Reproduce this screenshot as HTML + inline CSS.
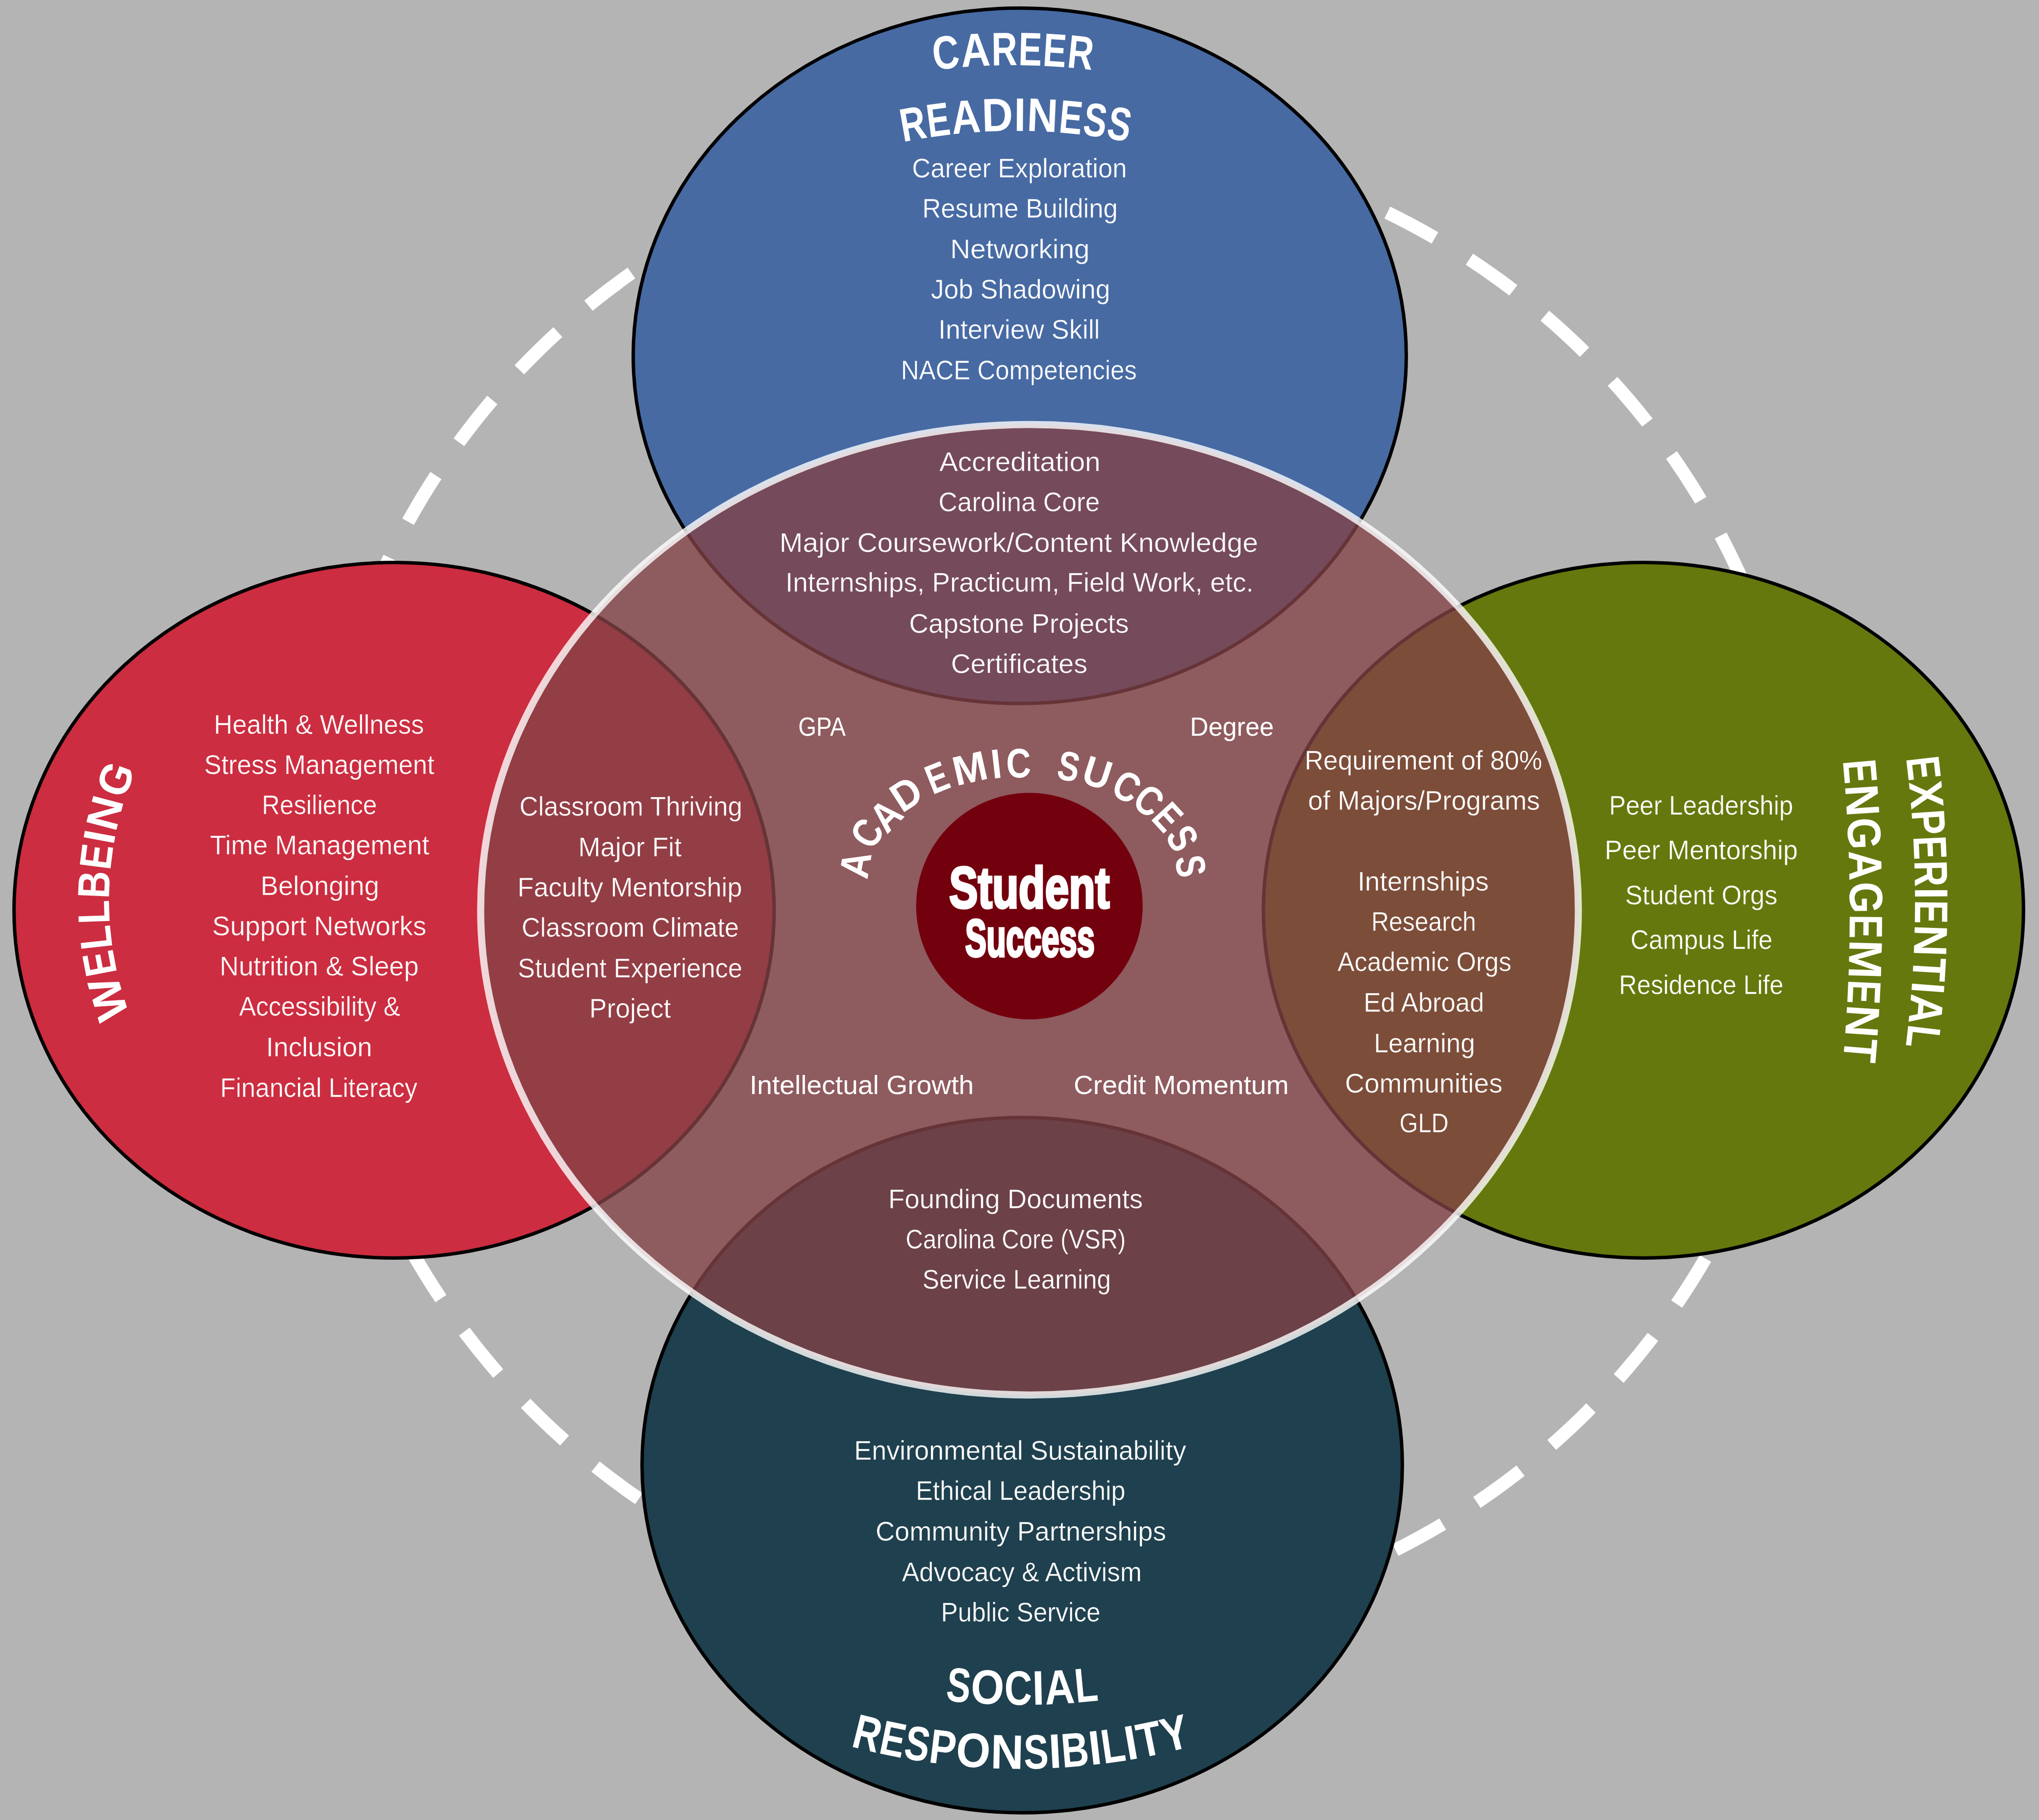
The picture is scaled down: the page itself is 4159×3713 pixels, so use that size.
<!DOCTYPE html>
<html lang="en"><head><meta charset="utf-8"><title>Student Success Model</title>
<style>html,body{margin:0;padding:0;background:#b4b4b4}svg{display:block}</style></head>
<body>
<svg width="4159" height="3713" viewBox="0 0 4159 3713">
<rect width="4159" height="3713" fill="#b4b4b4"/>
<path d="M 641.9 1802.0 A 1521.5 1521.5 0 1 1 3684.9 1802.0 A 1521.5 1521.5 0 1 1 641.9 1802.0" fill="none" stroke="#fff" stroke-width="27" stroke-dasharray="110 82.5"/>
<ellipse cx="2080.0" cy="725.9" rx="788.4" ry="709.4" fill="#476aa3" stroke="#000" stroke-width="7"/>
<ellipse cx="803.8" cy="1857.0" rx="775.2" ry="709.4" fill="#cc2d40" stroke="#000" stroke-width="7"/>
<ellipse cx="3352.2" cy="1857.0" rx="775.2" ry="709.4" fill="#65780d" stroke="#000" stroke-width="7"/>
<ellipse cx="2085.0" cy="2989.0" rx="775.4" ry="709.2" fill="#1f404e" stroke="#000" stroke-width="7"/>
<ellipse cx="2099.9" cy="1856" rx="1119.5" ry="989.9" fill="rgb(131,65,70)" fill-opacity="0.78"/>
<ellipse cx="2099.9" cy="1856" rx="1119.5" ry="989.9" fill="none" stroke="#fff" stroke-opacity="0.8" stroke-width="14.5"/>
<circle cx="2099.7" cy="1848.6" r="231" fill="#73000d"/>
<g fill="#fff" font-family="'Liberation Sans', sans-serif">
<g stroke="#476aa3" stroke-width="0.50">
<text x="1860.3" y="362.0" font-size="55.96" textLength="438.1" lengthAdjust="spacingAndGlyphs">Career Exploration</text>
<text x="1881.2" y="443.6" font-size="55.96" textLength="398.7" lengthAdjust="spacingAndGlyphs">Resume Building</text>
<text x="1938.3" y="527.0" font-size="55.96" textLength="284.3" lengthAdjust="spacingAndGlyphs">Networking</text>
<text x="1898.7" y="608.7" font-size="55.96" textLength="365.8" lengthAdjust="spacingAndGlyphs">Job Shadowing</text>
<text x="1914.0" y="691.4" font-size="55.96" textLength="329.6" lengthAdjust="spacingAndGlyphs">Interview Skill</text>
<text x="1837.8" y="773.5" font-size="55.96" textLength="481.0" lengthAdjust="spacingAndGlyphs">NACE Competencies</text>
</g>
<g stroke="#764a5a" stroke-width="0.50">
<text x="1915.9" y="960.6" font-size="55.96" textLength="328.8" lengthAdjust="spacingAndGlyphs">Accreditation</text>
<text x="1914.3" y="1043.0" font-size="55.96" textLength="329.1" lengthAdjust="spacingAndGlyphs">Carolina Core</text>
<text x="1590.0" y="1125.8" font-size="55.96" textLength="976.2" lengthAdjust="spacingAndGlyphs">Major Coursework/Content Knowledge</text>
<text x="1601.9" y="1207.4" font-size="55.96" textLength="955.1" lengthAdjust="spacingAndGlyphs">Internships, Practicum, Field Work, etc.</text>
<text x="1854.2" y="1290.5" font-size="55.96" textLength="448.3" lengthAdjust="spacingAndGlyphs">Capstone Projects</text>
<text x="1939.7" y="1373.0" font-size="55.96" textLength="278.3" lengthAdjust="spacingAndGlyphs">Certificates</text>
</g>
<g stroke="#cc2d40" stroke-width="0.50">
<text x="436.2" y="1496.6" font-size="55.96" textLength="428.7" lengthAdjust="spacingAndGlyphs">Health &amp; Wellness</text>
<text x="416.4" y="1578.8" font-size="55.96" textLength="469.7" lengthAdjust="spacingAndGlyphs">Stress Management</text>
<text x="534.1" y="1661.0" font-size="55.96" textLength="234.7" lengthAdjust="spacingAndGlyphs">Resilience</text>
<text x="428.4" y="1742.8" font-size="55.96" textLength="447.3" lengthAdjust="spacingAndGlyphs">Time Management</text>
<text x="531.5" y="1825.5" font-size="55.96" textLength="242.0" lengthAdjust="spacingAndGlyphs">Belonging</text>
<text x="432.8" y="1907.7" font-size="55.96" textLength="436.9" lengthAdjust="spacingAndGlyphs">Support Networks</text>
<text x="447.9" y="1990.4" font-size="55.96" textLength="406.1" lengthAdjust="spacingAndGlyphs">Nutrition &amp; Sleep</text>
<text x="487.7" y="2072.2" font-size="55.96" textLength="328.8" lengthAdjust="spacingAndGlyphs">Accessibility &amp;</text>
<text x="542.7" y="2154.9" font-size="55.96" textLength="216.5" lengthAdjust="spacingAndGlyphs">Inclusion</text>
<text x="449.1" y="2237.6" font-size="55.96" textLength="402.2" lengthAdjust="spacingAndGlyphs">Financial Literacy</text>
</g>
<g stroke="#933d45" stroke-width="0.50">
<text x="1059.5" y="1664.3" font-size="55.96" textLength="454.7" lengthAdjust="spacingAndGlyphs">Classroom Thriving</text>
<text x="1179.6" y="1746.7" font-size="55.96" textLength="210.8" lengthAdjust="spacingAndGlyphs">Major Fit</text>
<text x="1055.5" y="1829.4" font-size="55.96" textLength="458.3" lengthAdjust="spacingAndGlyphs">Faculty Mentorship</text>
<text x="1063.9" y="1911.3" font-size="55.96" textLength="443.4" lengthAdjust="spacingAndGlyphs">Classroom Climate</text>
<text x="1056.3" y="1994.0" font-size="55.96" textLength="458.0" lengthAdjust="spacingAndGlyphs">Student Experience</text>
<text x="1202.0" y="2076.4" font-size="55.96" textLength="166.4" lengthAdjust="spacingAndGlyphs">Project</text>
</g>
<g stroke="#7c4d39" stroke-width="0.50">
<text x="2660.9" y="1570.0" font-size="55.96" textLength="485.0" lengthAdjust="spacingAndGlyphs">Requirement of 80%</text>
<text x="2668.1" y="1651.8" font-size="55.96" textLength="473.1" lengthAdjust="spacingAndGlyphs">of Majors/Programs</text>
<text x="2768.9" y="1816.6" font-size="55.96" textLength="267.7" lengthAdjust="spacingAndGlyphs">Internships</text>
<text x="2796.9" y="1899.3" font-size="55.96" textLength="213.9" lengthAdjust="spacingAndGlyphs">Research</text>
<text x="2728.2" y="1981.0" font-size="55.96" textLength="354.7" lengthAdjust="spacingAndGlyphs">Academic Orgs</text>
<text x="2781.5" y="2063.7" font-size="55.96" textLength="245.9" lengthAdjust="spacingAndGlyphs">Ed Abroad</text>
<text x="2802.5" y="2146.8" font-size="55.96" textLength="206.3" lengthAdjust="spacingAndGlyphs">Learning</text>
<text x="2743.2" y="2228.5" font-size="55.96" textLength="321.5" lengthAdjust="spacingAndGlyphs">Communities</text>
<text x="2854.5" y="2310.2" font-size="55.96" textLength="100.3" lengthAdjust="spacingAndGlyphs">GLD</text>
</g>
<g stroke="#65780d" stroke-width="0.50">
<text x="3282.0" y="1661.8" font-size="55.96" textLength="375.5" lengthAdjust="spacingAndGlyphs">Peer Leadership</text>
<text x="3273.1" y="1752.8" font-size="55.96" textLength="393.9" lengthAdjust="spacingAndGlyphs">Peer Mentorship</text>
<text x="3314.9" y="1844.6" font-size="55.96" textLength="310.8" lengthAdjust="spacingAndGlyphs">Student Orgs</text>
<text x="3325.8" y="1936.0" font-size="55.96" textLength="289.7" lengthAdjust="spacingAndGlyphs">Campus Life</text>
<text x="3302.3" y="2027.6" font-size="55.96" textLength="335.5" lengthAdjust="spacingAndGlyphs">Residence Life</text>
</g>
<g stroke="#6d4148" stroke-width="0.50">
<text x="1811.8" y="2465.0" font-size="55.96" textLength="519.4" lengthAdjust="spacingAndGlyphs">Founding Documents</text>
<text x="1847.3" y="2546.6" font-size="55.96" textLength="449.1" lengthAdjust="spacingAndGlyphs">Carolina Core (VSR)</text>
<text x="1881.5" y="2629.0" font-size="55.96" textLength="384.6" lengthAdjust="spacingAndGlyphs">Service Learning</text>
</g>
<g stroke="#1f404e" stroke-width="0.50">
<text x="1742.2" y="2977.6" font-size="55.96" textLength="677.3" lengthAdjust="spacingAndGlyphs">Environmental Sustainability</text>
<text x="1867.9" y="3059.6" font-size="55.96" textLength="427.6" lengthAdjust="spacingAndGlyphs">Ethical Leadership</text>
<text x="1786.0" y="3142.7" font-size="55.96" textLength="592.5" lengthAdjust="spacingAndGlyphs">Community Partnerships</text>
<text x="1839.7" y="3225.5" font-size="55.96" textLength="489.2" lengthAdjust="spacingAndGlyphs">Advocacy &amp; Activism</text>
<text x="1919.4" y="3308.2" font-size="55.96" textLength="325.2" lengthAdjust="spacingAndGlyphs">Public Service</text>
</g>
<text x="1628.2" y="1500.6" font-size="53.05" textLength="96.7" lengthAdjust="spacingAndGlyphs">GPA</text>
<text x="2427.3" y="1500.6" font-size="53.05" textLength="170.8" lengthAdjust="spacingAndGlyphs">Degree</text>
<text x="1528.9" y="2232.4" font-size="53.05" textLength="457.3" lengthAdjust="spacingAndGlyphs">Intellectual Growth</text>
<text x="2189.9" y="2232.4" font-size="53.05" textLength="438.9" lengthAdjust="spacingAndGlyphs">Credit Momentum</text>
<text x="1936.0" y="1851.5" font-size="119.19" textLength="327.4" lengthAdjust="spacingAndGlyphs" font-weight="bold" stroke="#fff" stroke-width="5">Student</text>
<text x="1968.8" y="1950.5" font-size="106.83" textLength="264.2" lengthAdjust="spacingAndGlyphs" font-weight="bold" stroke="#fff" stroke-width="5">Success</text>
<text transform="translate(1932.2 139.9) rotate(-5.87) scale(0.793 1)" font-size="95.93" text-anchor="middle" font-weight="bold">C</text>
<text transform="translate(1991.1 135.1) rotate(-3.28) scale(0.863 1)" font-size="95.93" text-anchor="middle" font-weight="bold">A</text>
<text transform="translate(2049.0 133.1) rotate(-0.75) scale(0.758 1)" font-size="95.93" text-anchor="middle" font-weight="bold">R</text>
<text transform="translate(2100.6 133.5) rotate(1.51) scale(0.744 1)" font-size="95.93" text-anchor="middle" font-weight="bold">E</text>
<text transform="translate(2149.6 135.7) rotate(3.67) scale(0.744 1)" font-size="95.93" text-anchor="middle" font-weight="bold">E</text>
<text transform="translate(2201.1 140.0) rotate(5.93) scale(0.758 1)" font-size="95.93" text-anchor="middle" font-weight="bold">R</text>
<text transform="translate(1867.5 284.9) rotate(-10.01) scale(0.750 1)" font-size="95.93" text-anchor="middle" font-weight="bold">R</text>
<text transform="translate(1917.9 277.1) rotate(-7.52) scale(0.736 1)" font-size="95.93" text-anchor="middle" font-weight="bold">E</text>
<text transform="translate(1972.3 271.2) rotate(-4.85) scale(0.853 1)" font-size="95.93" text-anchor="middle" font-weight="bold">A</text>
<text transform="translate(2035.3 267.6) rotate(-1.77) scale(0.914 1)" font-size="95.93" text-anchor="middle" font-weight="bold">D</text>
<text transform="translate(2080.2 267.0) rotate(0.43) scale(0.892 1)" font-size="95.93" text-anchor="middle" font-weight="bold">I</text>
<text transform="translate(2124.9 268.2) rotate(2.61) scale(0.908 1)" font-size="95.93" text-anchor="middle" font-weight="bold">N</text>
<text transform="translate(2181.4 272.2) rotate(5.37) scale(0.736 1)" font-size="95.93" text-anchor="middle" font-weight="bold">E</text>
<text transform="translate(2229.8 277.7) rotate(7.75) scale(0.739 1)" font-size="95.93" text-anchor="middle" font-weight="bold">S</text>
<text transform="translate(2277.9 285.3) rotate(10.13) scale(0.739 1)" font-size="95.93" text-anchor="middle" font-weight="bold">S</text>
<text transform="translate(1952.5 3471.7) rotate(5.43) scale(0.745 1)" font-size="98.84" text-anchor="middle" font-weight="bold">S</text>
<text transform="translate(2012.7 3476.1) rotate(2.96) scale(0.883 1)" font-size="98.84" text-anchor="middle" font-weight="bold">O</text>
<text transform="translate(2076.7 3478.0) rotate(0.34) scale(0.790 1)" font-size="98.84" text-anchor="middle" font-weight="bold">C</text>
<text transform="translate(2118.5 3477.6) rotate(-1.37) scale(0.899 1)" font-size="98.84" text-anchor="middle" font-weight="bold">I</text>
<text transform="translate(2162.8 3475.8) rotate(-3.19) scale(0.859 1)" font-size="98.84" text-anchor="middle" font-weight="bold">A</text>
<text transform="translate(2218.5 3471.6) rotate(-5.47) scale(0.779 1)" font-size="98.84" text-anchor="middle" font-weight="bold">L</text>
<text transform="translate(1761.5 3569.5) rotate(13.85) scale(0.778 1)" font-size="98.84" text-anchor="middle" font-weight="bold">R</text>
<text transform="translate(1814.8 3581.5) rotate(11.52) scale(0.764 1)" font-size="98.84" text-anchor="middle" font-weight="bold">E</text>
<text transform="translate(1866.0 3590.9) rotate(9.30) scale(0.767 1)" font-size="98.84" text-anchor="middle" font-weight="bold">S</text>
<text transform="translate(1919.4 3598.5) rotate(6.99) scale(0.820 1)" font-size="98.84" text-anchor="middle" font-weight="bold">P</text>
<text transform="translate(1983.0 3604.8) rotate(4.27) scale(0.910 1)" font-size="98.84" text-anchor="middle" font-weight="bold">O</text>
<text transform="translate(2053.7 3608.2) rotate(1.24) scale(0.943 1)" font-size="98.84" text-anchor="middle" font-weight="bold">N</text>
<text transform="translate(2114.4 3608.1) rotate(-1.35) scale(0.767 1)" font-size="98.84" text-anchor="middle" font-weight="bold">S</text>
<text transform="translate(2153.6 3606.6) rotate(-3.02) scale(0.927 1)" font-size="98.84" text-anchor="middle" font-weight="bold">I</text>
<text transform="translate(2195.4 3603.8) rotate(-4.81) scale(0.784 1)" font-size="98.84" text-anchor="middle" font-weight="bold">B</text>
<text transform="translate(2237.2 3599.6) rotate(-6.61) scale(0.927 1)" font-size="98.84" text-anchor="middle" font-weight="bold">I</text>
<text transform="translate(2275.0 3594.7) rotate(-8.23) scale(0.803 1)" font-size="98.84" text-anchor="middle" font-weight="bold">L</text>
<text transform="translate(2312.6 3588.7) rotate(-9.86) scale(0.927 1)" font-size="98.84" text-anchor="middle" font-weight="bold">I</text>
<text transform="translate(2351.0 3581.4) rotate(-11.53) scale(0.835 1)" font-size="98.84" text-anchor="middle" font-weight="bold">T</text>
<text transform="translate(2404.2 3569.4) rotate(-13.86) scale(0.840 1)" font-size="98.84" text-anchor="middle" font-weight="bold">Y</text>
<text transform="translate(250.9 2028.9) rotate(253.23) scale(1.009 1)" font-size="91.57" text-anchor="middle" font-weight="bold">W</text>
<text transform="translate(234.1 1960.1) rotate(259.30) scale(0.824 1)" font-size="91.57" text-anchor="middle" font-weight="bold">E</text>
<text transform="translate(226.6 1909.7) rotate(263.67) scale(0.866 1)" font-size="91.57" text-anchor="middle" font-weight="bold">L</text>
<text transform="translate(222.9 1859.9) rotate(267.95) scale(0.866 1)" font-size="91.57" text-anchor="middle" font-weight="bold">L</text>
<text transform="translate(223.2 1806.1) rotate(272.56) scale(0.845 1)" font-size="91.57" text-anchor="middle" font-weight="bold">B</text>
<text transform="translate(227.9 1751.6) rotate(277.25) scale(0.824 1)" font-size="91.57" text-anchor="middle" font-weight="bold">E</text>
<text transform="translate(233.9 1713.0) rotate(280.60) scale(0.999 1)" font-size="91.57" text-anchor="middle" font-weight="bold">I</text>
<text transform="translate(244.4 1666.4) rotate(284.70) scale(1.017 1)" font-size="91.57" text-anchor="middle" font-weight="bold">N</text>
<text transform="translate(265.2 1600.8) rotate(290.60) scale(0.931 1)" font-size="91.57" text-anchor="middle" font-weight="bold">G</text>
<text transform="translate(3890.8 1570.6) rotate(83.48) scale(0.752 1)" font-size="95.93" text-anchor="middle" font-weight="bold">E</text>
<text transform="translate(3896.3 1624.1) rotate(84.79) scale(0.877 1)" font-size="95.93" text-anchor="middle" font-weight="bold">X</text>
<text transform="translate(3900.7 1679.4) rotate(86.14) scale(0.807 1)" font-size="95.93" text-anchor="middle" font-weight="bold">P</text>
<text transform="translate(3903.6 1730.7) rotate(87.39) scale(0.752 1)" font-size="95.93" text-anchor="middle" font-weight="bold">E</text>
<text transform="translate(3905.4 1782.8) rotate(88.66) scale(0.766 1)" font-size="95.93" text-anchor="middle" font-weight="bold">R</text>
<text transform="translate(3906.0 1822.7) rotate(89.63) scale(0.912 1)" font-size="95.93" text-anchor="middle" font-weight="bold">I</text>
<text transform="translate(3905.9 1860.0) rotate(90.54) scale(0.752 1)" font-size="95.93" text-anchor="middle" font-weight="bold">E</text>
<text transform="translate(3904.6 1917.9) rotate(91.95) scale(0.927 1)" font-size="95.93" text-anchor="middle" font-weight="bold">N</text>
<text transform="translate(3902.0 1975.8) rotate(93.36) scale(0.821 1)" font-size="95.93" text-anchor="middle" font-weight="bold">T</text>
<text transform="translate(3899.5 2013.0) rotate(94.26) scale(0.912 1)" font-size="95.93" text-anchor="middle" font-weight="bold">I</text>
<text transform="translate(3895.8 2056.5) rotate(95.33) scale(0.871 1)" font-size="95.93" text-anchor="middle" font-weight="bold">A</text>
<text transform="translate(3890.1 2111.2) rotate(96.66) scale(0.790 1)" font-size="95.93" text-anchor="middle" font-weight="bold">L</text>
<text transform="translate(3761.1 1576.4) rotate(85.18) scale(0.764 1)" font-size="95.93" text-anchor="middle" font-weight="bold">E</text>
<text transform="translate(3765.5 1635.2) rotate(86.18) scale(0.943 1)" font-size="95.93" text-anchor="middle" font-weight="bold">N</text>
<text transform="translate(3769.3 1701.9) rotate(87.32) scale(0.864 1)" font-size="95.93" text-anchor="middle" font-weight="bold">G</text>
<text transform="translate(3771.7 1766.7) rotate(88.42) scale(0.886 1)" font-size="95.93" text-anchor="middle" font-weight="bold">A</text>
<text transform="translate(3772.9 1831.6) rotate(89.52) scale(0.864 1)" font-size="95.93" text-anchor="middle" font-weight="bold">G</text>
<text transform="translate(3772.9 1890.0) rotate(90.51) scale(0.764 1)" font-size="95.93" text-anchor="middle" font-weight="bold">E</text>
<text transform="translate(3771.6 1956.3) rotate(91.63) scale(0.997 1)" font-size="95.93" text-anchor="middle" font-weight="bold">M</text>
<text transform="translate(3769.1 2022.5) rotate(92.76) scale(0.764 1)" font-size="95.93" text-anchor="middle" font-weight="bold">E</text>
<text transform="translate(3765.7 2081.3) rotate(93.76) scale(0.943 1)" font-size="95.93" text-anchor="middle" font-weight="bold">N</text>
<text transform="translate(3761.4 2140.0) rotate(94.76) scale(0.835 1)" font-size="95.93" text-anchor="middle" font-weight="bold">T</text>
<text transform="translate(1773.6 1768.9) rotate(-80.28) scale(0.880 1)" font-size="84.30" text-anchor="middle" font-weight="bold">A</text>
<text transform="translate(1793.2 1715.0) rotate(-58.26) scale(0.830 1)" font-size="84.30" text-anchor="middle" font-weight="bold">C</text>
<text transform="translate(1827.7 1683.9) rotate(-45.56) scale(0.880 1)" font-size="84.30" text-anchor="middle" font-weight="bold">A</text>
<text transform="translate(1864.2 1644.0) rotate(-32.89) scale(0.950 1)" font-size="84.30" text-anchor="middle" font-weight="bold">D</text>
<text transform="translate(1922.3 1613.4) rotate(-21.80) scale(0.770 1)" font-size="84.30" text-anchor="middle" font-weight="bold">E</text>
<text transform="translate(1984.8 1595.7) rotate(-12.84) scale(1.000 1)" font-size="84.30" text-anchor="middle" font-weight="bold">M</text>
<text transform="translate(2035.3 1587.3) rotate(-6.43) scale(0.900 1)" font-size="84.30" text-anchor="middle" font-weight="bold">I</text>
<text transform="translate(2078.3 1586.1) rotate(-1.27) scale(0.830 1)" font-size="84.30" text-anchor="middle" font-weight="bold">C</text>
<text transform="translate(2174.7 1591.9) rotate(10.46) scale(0.780 1)" font-size="84.30" text-anchor="middle" font-weight="bold">S</text>
<text transform="translate(2229.5 1604.3) rotate(17.84) scale(0.930 1)" font-size="84.30" text-anchor="middle" font-weight="bold">U</text>
<text transform="translate(2285.0 1630.7) rotate(27.45) scale(0.830 1)" font-size="84.30" text-anchor="middle" font-weight="bold">C</text>
<text transform="translate(2326.1 1656.7) rotate(36.67) scale(0.830 1)" font-size="84.30" text-anchor="middle" font-weight="bold">C</text>
<text transform="translate(2360.5 1686.3) rotate(47.36) scale(0.770 1)" font-size="84.30" text-anchor="middle" font-weight="bold">E</text>
<text transform="translate(2386.3 1723.9) rotate(61.42) scale(0.780 1)" font-size="84.30" text-anchor="middle" font-weight="bold">S</text>
<text transform="translate(2399.8 1771.3) rotate(81.15) scale(0.780 1)" font-size="84.30" text-anchor="middle" font-weight="bold">S</text>
</g>
</svg>
</body></html>
